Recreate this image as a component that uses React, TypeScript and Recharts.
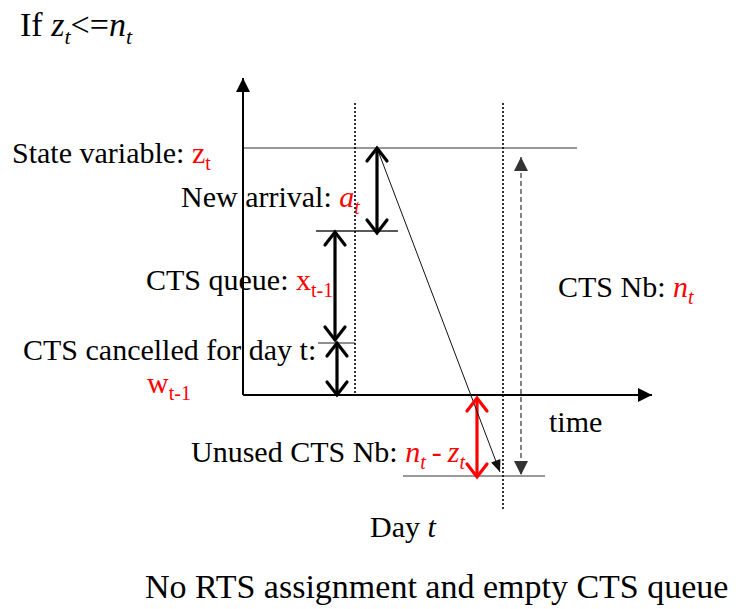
import React from 'react';
import { ComposedChart, XAxis, YAxis, ReferenceLine, Scatter } from 'recharts';

const W = 747;
const H = 609;
// Diagram coordinates: origin where the stock axis meets the time axis, 1 unit = 1 px
const xDomain = [-243, 504];
const yDomain = [-214, 395];

// Plain guide lines
const guideIds = ['zLevel', 'xTop', 'wTop', 'unusedLevel', 'day1', 'day2'];
const guideX1 = [-1, 73, 75, 160, 112, 260];
const guideY1 = [247, 164, 52, -81, 292, 292];
const guideX2 = [334, 155, 112, 302, 112, 260];
const guideY2 = [247, 164, 52, -81, 0, -115];

// Arrows
const arrowIds = ['yAxis', 'xAxis', 'newArrival', 'ctsQueue', 'cancelled', 'ctsNb', 'unused', 'drop'];
const arrowX1 = [0, 0, 134, 92, 94, 278, 234, 134];
const arrowY1 = [0, 0, 247, 163, 52, 238, -3, 247];
const arrowX2 = [0, 409, 134, 92, 94, 278, 234, 257];
const arrowY2 = [317, 0, 162, 55, 0, -80, -82, -77];

// Text labels
type Part = { t: string; red?: boolean; it?: boolean; sub?: boolean };
const labelIds = ['title', 'state', 'arrival', 'queue', 'cancel', 'w', 'nb', 'time', 'unusedTxt', 'day', 'caption'];
const labelX = [-223, -231, -62, -97, -220, -96, 315, 306, -52, 127, -98];
const labelY = [359, 232, 188, 105, 35, 2, 98, -37, -67, -142, -203];
const labelParts: Part[][] = [
  [{ t: 'If ' }, { t: 'z', it: true }, { t: 't', it: true, sub: true }, { t: '<=' }, { t: 'n', it: true }, { t: 't', it: true, sub: true }],
  [{ t: 'State variable: ' }, { t: 'z', red: true }, { t: 't', red: true, sub: true }],
  [{ t: 'New arrival: ' }, { t: 'a', red: true, it: true }, { t: 't', red: true, it: true, sub: true }],
  [{ t: 'CTS queue: ' }, { t: 'x', red: true }, { t: 't-1', red: true, sub: true }],
  [{ t: 'CTS cancelled for day t:' }],
  [{ t: 'w', red: true }, { t: 't-1', red: true, sub: true }],
  [{ t: 'CTS Nb: ' }, { t: 'n', red: true, it: true }, { t: 't', red: true, it: true, sub: true }],
  [{ t: 'time' }],
  [{ t: 'Unused CTS Nb: ' }, { t: 'n', red: true, it: true }, { t: 't', red: true, it: true, sub: true }, { t: '\u2009-\u2009', red: true }, { t: 'z', red: true, it: true }, { t: 't', red: true, it: true, sub: true }],
  [{ t: 'Day ' }, { t: 't', it: true }],
  [{ t: 'No RTS assignment and empty CTS queue' }],
];

// ---- styles (kept apart from data) ----
const FONT = '"Liberation Serif", "Times New Roman", serif';
const RED = '#ff0000';
const guideStyle: Record<string, any> = {
  zLevel: { stroke: '#333', strokeWidth: 1.2 },
  xTop: { stroke: '#222', strokeWidth: 1.5 },
  wTop: { stroke: '#222', strokeWidth: 1.2 },
  unusedLevel: { stroke: '#777', strokeWidth: 1.5 },
  day1: { stroke: '#000', strokeWidth: 1.6, strokeDasharray: '2 2' },
  day2: { stroke: '#000', strokeWidth: 1.6, strokeDasharray: '2 2' },
};
type Head = 'none' | 'tri' | 'chev' | 'smalltri';
const arrowStyle: Record<string, { stroke: string; w: number; dash?: string; start: Head; end: Head }> = {
  yAxis: { stroke: '#000', w: 2, start: 'none', end: 'tri' },
  xAxis: { stroke: '#000', w: 2, start: 'none', end: 'tri' },
  newArrival: { stroke: '#000', w: 3.2, start: 'chev', end: 'chev' },
  ctsQueue: { stroke: '#000', w: 3.2, start: 'chev', end: 'chev' },
  cancelled: { stroke: '#000', w: 3.2, start: 'chev', end: 'chev' },
  ctsNb: { stroke: '#333', w: 1.2, dash: '5 3', start: 'tri', end: 'tri' },
  unused: { stroke: RED, w: 3.2, start: 'chev', end: 'chev' },
  drop: { stroke: '#111', w: 1, start: 'none', end: 'smalltri' },
};
const labelSize: Record<string, number> = { title: 34, caption: 34 };

// derived arrowhead points
const heads: any[] = [];
arrowIds.forEach((id, i) => {
  const s = arrowStyle[id];
  const dx = arrowX2[i] - arrowX1[i];
  const dy = arrowY2[i] - arrowY1[i];
  const ang = Math.atan2(-dy, dx); // screen angle of direction start->end
  if (s.end !== 'none') heads.push({ x: arrowX2[i], y: arrowY2[i], ang, kind: s.end, color: s.stroke });
  if (s.start !== 'none') heads.push({ x: arrowX1[i], y: arrowY1[i], ang: ang + Math.PI, kind: s.start, color: s.stroke });
});

const labelData = labelIds.map((id, i) => ({ id, x: labelX[i], y: labelY[i], parts: labelParts[i] }));

const HeadShape = (props: any) => {
  const { cx, cy, payload } = props;
  if (cx == null || cy == null) return null;
  const ux = Math.cos(payload.ang);
  const uy = Math.sin(payload.ang);
  const nx = -uy;
  const ny = ux;
  let L = 14, Wd = 7;
  if (payload.kind === 'chev') { L = 13; Wd = 10; }
  if (payload.kind === 'smalltri') { L = 12; Wd = 5; }
  const bx = cx - L * ux;
  const by = cy - L * uy;
  const p1 = `${bx + Wd * nx},${by + Wd * ny}`;
  const p2 = `${bx - Wd * nx},${by - Wd * ny}`;
  if (payload.kind === 'chev') {
    return (
      <path d={`M${p1} L${cx},${cy} L${p2}`} fill="none" stroke={payload.color} strokeWidth={3.2} strokeLinecap="round" strokeLinejoin="miter" />
    );
  }
  return <polygon points={`${p1} ${cx},${cy} ${p2}`} fill={payload.color} stroke="none" />;
};

const LabelShape = (props: any) => {
  const { cx, cy, payload } = props;
  if (cx == null || cy == null) return null;
  const fs = labelSize[payload.id] ?? 30;
  const subFs = Math.round(fs * 0.66);
  const shift = Math.round(fs * 0.24);
  let inSub = false;
  return (
    <text x={cx} y={cy} fontFamily={FONT} fontSize={fs} fill="#000" style={{ whiteSpace: 'pre' }}>
      {payload.parts.map((p: Part, k: number) => {
        let dy = 0;
        if (p.sub && !inSub) { dy = shift; inSub = true; }
        else if (!p.sub && inSub) { dy = -shift; inSub = false; }
        return (
          <tspan key={k} dy={dy} fontSize={p.sub ? subFs : fs} fill={p.red ? RED : '#000'} fontStyle={p.it ? 'italic' : 'normal'}>
            {p.t}
          </tspan>
        );
      })}
    </text>
  );
};

export default function App() {
  return (
    <div style={{ position: 'absolute', left: 0, top: 0, width: W, height: H, background: '#fff' }}>
      <ComposedChart width={W} height={H} margin={{ top: 0, right: 0, bottom: 0, left: 0 }}>
        <XAxis type="number" dataKey="x" domain={xDomain} allowDataOverflow hide />
        <YAxis type="number" dataKey="y" domain={yDomain} allowDataOverflow hide />
        {guideIds.map((id, i) => (
          <ReferenceLine
            key={id}
            segment={[{ x: guideX1[i], y: guideY1[i] }, { x: guideX2[i], y: guideY2[i] }]}
            ifOverflow="visible"
            {...guideStyle[id]}
          />
        ))}
        {arrowIds.map((id, i) => {
          const s = arrowStyle[id];
          return (
            <ReferenceLine
              key={id}
              segment={[{ x: arrowX1[i], y: arrowY1[i] }, { x: arrowX2[i], y: arrowY2[i] }]}
              ifOverflow="visible"
              stroke={s.stroke}
              strokeWidth={s.w}
              strokeDasharray={s.dash}
            />
          );
        })}
        <Scatter data={heads} dataKey="y" shape={HeadShape} isAnimationActive={false} />
        <Scatter data={labelData} dataKey="y" shape={LabelShape} isAnimationActive={false} />
      </ComposedChart>
    </div>
  );
}
